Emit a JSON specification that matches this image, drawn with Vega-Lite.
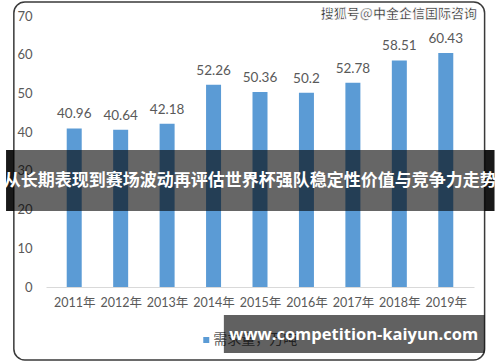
{
  "$schema": "https://vega.github.io/schema/vega-lite/v6.json",
  "autosize": {"type": "none"},
  "width": 428,
  "height": 271,
  "padding": {"left": 46, "top": 16, "right": 26, "bottom": 75},
  "background": "white",
  "config": {
    "view": {"stroke": null},
    "axis": {"labelOverlap": false, "labelFlush": false},
    "axisY": {"labelOverlap": false, "tickCount": 8, "ticks": false, "grid": false, "domain": false,
              "labelColor": "#595959", "labelFont": "Lato", "labelFontSize": 13, "labelPadding": 14, "title": null},
    "axisX": {"labelOverlap": false, "ticks": false, "grid": false, "domainColor": "#d9d9d9",
              "labelColor": "#595959", "labelFont": "Lato, Noto Sans CJK SC", "labelFontSize": 12.5, "labelPadding": 9, "title": null}
  },
  "data": {"values": [
    {"year": 2011, "value": 40.96},
    {"year": 2012, "value": 40.64},
    {"year": 2013, "value": 42.18},
    {"year": 2014, "value": 52.26},
    {"year": 2015, "value": 50.36},
    {"year": 2016, "value": 50.2},
    {"year": 2017, "value": 52.78},
    {"year": 2018, "value": 58.51},
    {"year": 2019, "value": 60.43}
  ]},
  "layer": [
    {
      "mark": {"type": "bar", "color": "#5b9bd5", "size": 15},
      "encoding": {
        "x": {"field": "year", "type": "quantitative",
              "scale": {"domain": [2010.5, 2019.5], "nice": false, "zero": false},
              "axis": {"title": null, "values": [2011, 2012, 2013, 2014, 2015, 2016, 2017, 2018, 2019],
                       "labelExpr": "datum.value + '年'", "labelOverlap": false}},
        "y": {"field": "value", "type": "quantitative",
              "scale": {"domain": [0, 70], "nice": false, "zero": false},
              "axis": {"title": null, "values": [0, 10, 20, 30, 40, 50, 60, 70], "labelOverlap": false, "tickCount": 8}}
      }
    },
    {
      "data": {"values": [{}]},
      "mark": {"type": "rect", "fill": null, "fillOpacity": 0, "stroke": "#3a3a3a", "strokeWidth": 1.5, "cornerRadius": 11},
      "encoding": {
        "x": {"datum": 2009.70, "type": "quantitative"},
        "x2": {"datum": 2019.836},
        "y": {"datum": 73.62, "type": "quantitative"},
        "y2": {"datum": -18.86}
      }
    },
    {
      "mark": {"type": "text", "baseline": "bottom", "dy": -7, "color": "#595959", "font": "Lato", "fontSize": 13.5},
      "encoding": {
        "x": {"field": "year", "type": "quantitative"},
        "y": {"field": "value", "type": "quantitative"},
        "text": {"field": "value", "type": "nominal"}
      }
    },
    {
      "data": {"values": [{"label": "需求量，万吨"}]},
      "mark": {"type": "point", "shape": "square", "filled": true, "color": "#5b9bd5", "size": 36, "opacity": 1},
      "encoding": {
        "x": {"datum": 2013.843, "type": "quantitative"},
        "y": {"datum": -13.69, "type": "quantitative"}
      }
    },
    {
      "data": {"values": [{"label": "需求量，万吨"}]},
      "mark": {"type": "text", "align": "left", "baseline": "middle", "color": "#595959", "font": "Noto Sans CJK SC", "fontSize": 14},
      "encoding": {
        "x": {"datum": 2013.991, "type": "quantitative"},
        "y": {"datum": -13.69, "type": "quantitative"},
        "text": {"field": "label"}
      }
    },
    {
      "data": {"values": [{}]},
      "mark": {"type": "rect", "color": "black", "opacity": 0.6},
      "encoding": {
        "x": {"datum": 2009.533, "type": "quantitative"},
        "x2": {"datum": 2020.047},
        "y": {"datum": 35.39, "type": "quantitative"},
        "y2": {"datum": 19.63}
      }
    },
    {
      "data": {"values": [{"a": 2009.533, "b": 2009.701}, {"a": 2019.836, "b": 2020.047}]},
      "mark": {"type": "rect", "color": "black", "opacity": 0.75},
      "encoding": {
        "x": {"field": "a", "type": "quantitative"},
        "x2": {"field": "b"},
        "y": {"datum": 35.39, "type": "quantitative"},
        "y2": {"datum": 19.63}
      }
    },
    {
      "data": {"values": [{"t": "从长期表现到赛场波动再评估世界杯强队稳定性价值与竞争力走势"}]},
      "mark": {"type": "text", "align": "center", "baseline": "middle", "color": "white", "font": "Noto Sans CJK SC", "fontWeight": "bold", "fontSize": 17},
      "encoding": {
        "x": {"datum": 2014.79, "type": "quantitative"},
        "y": {"datum": 27.38, "type": "quantitative"},
        "text": {"field": "t"}
      }
    },
    {
      "data": {"values": [{"t": "搜狐号@中金企信国际咨询"}]},
      "mark": {"type": "text", "align": "right", "baseline": "middle", "color": "#333333", "stroke": "white", "strokeWidth": 0.6, "font": "Noto Sans CJK SC", "fontWeight": "bold", "fontSize": 13},
      "encoding": {
        "x": {"datum": 2019.67, "type": "quantitative"},
        "y": {"datum": 70.52, "type": "quantitative"},
        "text": {"field": "t"}
      }
    },
    {
      "data": {"values": [{}]},
      "mark": {"type": "rect", "color": "black", "opacity": 0.62},
      "encoding": {
        "x": {"datum": 2014.222, "type": "quantitative"},
        "x2": {"datum": 2019.836},
        "y": {"datum": -7.23, "type": "quantitative"},
        "y2": {"datum": -17.05}
      }
    },
    {
      "data": {"values": [{"t": "www.competition-kaiyun.com"}]},
      "mark": {"type": "text", "align": "center", "baseline": "middle", "color": "white", "font": "Open Sans", "fontWeight": "bold", "fontSize": 16.5},
      "encoding": {
        "x": {"datum": 2017.019, "type": "quantitative"},
        "y": {"datum": -12.4, "type": "quantitative"},
        "text": {"field": "t"}
      }
    }
  ]
}
